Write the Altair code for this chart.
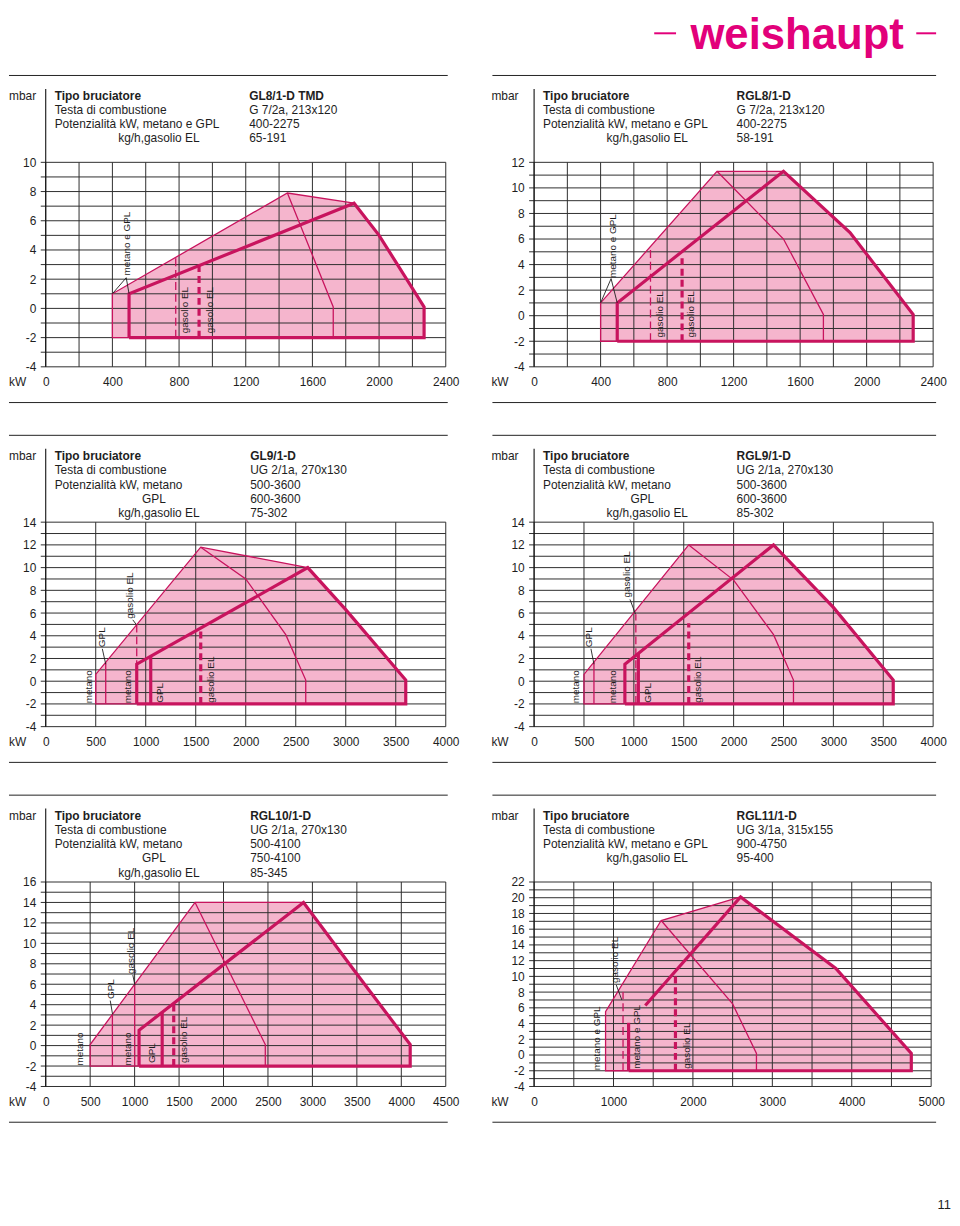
import altair as alt
import pandas as pd

FONT = "Liberation Sans"
LINE_C = "#c8145e"
FILL_C = "#f5b5cd"
GRID_C = "#2e2e2e"
TEXT_C = "#1e1e1e"
LOGO_C = "#e2007a"
BASE = -2  # lower edge of the working field (mbar)

# ================= Panel 1: GL8/1-D TMD =================
P1_HEAD_L = ["Tipo bruciatore", "Testa di combustione", "Potenzialità kW,  metano e GPL", "kg/h,gasolio EL"]
P1_HEAD_R = ["GL8/1-D TMD", "G 7/2a, 213x120", "400-2275", "65-191"]
P1_XTICKS = [0, 400, 800, 1200, 1600, 2000, 2400]
P1_YTICKS = [-4, -2, 0, 2, 4, 6, 8, 10]
P1_FILL_X = [400, 1450, 1850, 2000, 2270]
P1_FILL_Y = [1.0, 7.9, 7.2, 5.0, 0.1]
P1_THIN_X = [500, 400, 400, 1450, 1850]
P1_THIN_Y = [-2, -2, 1.0, 7.9, 7.2]
P1_THICK_X = [500, 500, 1850, 2000, 2270, 2270, 500]
P1_THICK_Y = [-2, 1.0, 7.2, 5.0, 0.1, -2, -2]
P1_INNER_X = [1450, 1725, 1725]
P1_INNER_Y = [7.9, 0.1, -2]
P1_DASH_X = [780, 780]
P1_DASH_Y = [-2, 3.5]
P1_BDASH_X = [920, 920]
P1_BDASH_Y = [-2, 2.9]
P1_LEAD1_X = [483, 400]
P1_LEAD1_Y = [2.1, 1.0]
P1_LEAD2_X = [483, 500]
P1_LEAD2_Y = [2.1, 1.0]
P1_LABELS = ["metano e GPL", "gasolio EL", "gasolio EL"]
P1_LABEL_X = [487, 834, 983]
P1_LABEL_Y = [2.25, -1.7, -1.7]

# ================= Panel 2: RGL8/1-D =================
P2_HEAD_L = ["Tipo bruciatore", "Testa di combustione", "Potenzialità kW,  metano e GPL", "kg/h,gasolio EL"]
P2_HEAD_R = ["RGL8/1-D", "G 7/2a, 213x120", "400-2275", "58-191"]
P2_XTICKS = [0, 400, 800, 1200, 1600, 2000, 2400]
P2_YTICKS = [-4, -2, 0, 2, 4, 6, 8, 10, 12]
P2_FILL_X = [400, 1100, 1500, 1900, 2280]
P2_FILL_Y = [1.0, 11.3, 11.3, 6.5, 0.1]
P2_THIN_X = [500, 400, 400, 1100, 1500]
P2_THIN_Y = [-2, -2, 1.0, 11.3, 11.3]
P2_THICK_X = [500, 500, 1500, 1900, 2280, 2280, 500]
P2_THICK_Y = [-2, 1.0, 11.3, 6.5, 0.1, -2, -2]
P2_INNER_X = [1100, 1500, 1740, 1740]
P2_INNER_Y = [11.3, 6.0, 0.1, -2]
P2_DASH_X = [700, 700]
P2_DASH_Y = [-2, 5.3]
P2_BDASH_X = [890, 890]
P2_BDASH_Y = [-2, 4.5]
P2_LEAD1_X = [463, 400]
P2_LEAD1_Y = [2.9, 1.0]
P2_LEAD2_X = [463, 500]
P2_LEAD2_Y = [2.9, 1.0]
P2_LABELS = ["metano e GPL", "gasolio EL", "gasolio EL"]
P2_LABEL_X = [477, 756, 944]
P2_LABEL_Y = [2.95, -1.7, -1.7]

# ================= Panel 3: GL9/1-D =================
P3_HEAD_L = ["Tipo bruciatore", "Testa di combustione", "Potenzialità kW, metano", "GPL", "kg/h,gasolio EL"]
P3_HEAD_R = ["GL9/1-D", "UG 2/1a, 270x130", "500-3600", "600-3600", "75-302"]
P3_XTICKS = [0, 500, 1000, 1500, 2000, 2500, 3000, 3500, 4000]
P3_YTICKS = [-4, -2, 0, 2, 4, 6, 8, 10, 12, 14]
P3_FILL_X = [500, 1550, 2620, 3000, 3600]
P3_FILL_Y = [0.6, 11.8, 10.0, 6.3, 0.1]
P3_THIN_X = [910, 500, 500, 1550, 2620]
P3_THIN_Y = [-2, -2, 0.6, 11.8, 10.0]
P3_THICK_X = [910, 910, 2620, 3000, 3600, 3600, 910]
P3_THICK_Y = [-2, 1.5, 10.0, 6.3, 0.1, -2, -2]
P3_STEP_X = [1050, 1050]
P3_STEP_Y = [-2, 2.2]
P3_GPL_X = [600, 600]
P3_GPL_Y = [-2, 1.67]
P3_INNER_X = [1550, 2000, 2400, 2600, 2600]
P3_INNER_Y = [11.8, 9.0, 4.1, 0.1, -2]
P3_DASH_X = [910, 910]
P3_DASH_Y = [-2, 4.97]
P3_BDASH_X = [1550, 1550]
P3_BDASH_Y = [-2, 4.7]
P3_LEAD1_X = [566, 600]
P3_LEAD1_Y = [2.85, 1.5]
P3_LEAD2_X = [871, 905]
P3_LEAD2_Y = [5.4, 5.0]
P3_LABELS = ["metano", "metano", "GPL", "GPL", "gasolio EL", "gasolio EL"]
P3_LABEL_X = [430, 821, 1142, 563, 844, 1649]
P3_LABEL_Y = [-1.95, -1.95, -1.9, 3.0, 5.5, -1.9]

# ================= Panel 4: RGL9/1-D =================
P4_HEAD_L = ["Tipo bruciatore", "Testa di combustione", "Potenzialità kW, metano", "GPL", "kg/h,gasolio EL"]
P4_HEAD_R = ["RGL9/1-D", "UG 2/1a, 270x130", "500-3600", "600-3600", "85-302"]
P4_XTICKS = [0, 500, 1000, 1500, 2000, 2500, 3000, 3500, 4000]
P4_YTICKS = [-4, -2, 0, 2, 4, 6, 8, 10, 12, 14]
P4_FILL_X = [500, 1550, 2400, 3000, 3600]
P4_FILL_Y = [0.6, 12.0, 12.0, 6.5, 0.1]
P4_THIN_X = [910, 500, 500, 1550, 2400]
P4_THIN_Y = [-2, -2, 0.6, 12.0, 12.0]
P4_THICK_X = [910, 910, 2400, 3000, 3600, 3600, 910]
P4_THICK_Y = [-2, 1.5, 12.0, 6.5, 0.1, -2, -2]
P4_STEP_X = [1045, 1045]
P4_STEP_Y = [-2, 2.45]
P4_GPL_X = [600, 600]
P4_GPL_Y = [-2, 1.69]
P4_INNER_X = [1550, 2000, 2400, 2600, 2600]
P4_INNER_Y = [12.0, 8.9, 4.1, 0.1, -2]
P4_DASH_X = [1020, 1020]
P4_DASH_Y = [-2, 5.9]
P4_BDASH_X = [1550, 1550]
P4_BDASH_Y = [-2, 5.1]
P4_LEAD1_X = [570, 600]
P4_LEAD1_Y = [2.85, 1.5]
P4_LEAD2_X = [961, 1017]
P4_LEAD2_Y = [7.2, 5.9]
P4_LABELS = ["metano", "metano", "GPL", "GPL", "gasolio EL", "gasolio EL"]
P4_LABEL_X = [424, 789, 1143, 547, 928, 1647]
P4_LABEL_Y = [-1.95, -1.95, -1.9, 3.0, 7.36, -1.9]

# ================= Panel 5: RGL10/1-D =================
P5_HEAD_L = ["Tipo bruciatore", "Testa di combustione", "Potenzialità kW, metano", "GPL", "kg/h,gasolio EL"]
P5_HEAD_R = ["RGL10/1-D", "UG 2/1a, 270x130", "500-4100", "750-4100", "85-345"]
P5_XTICKS = [0, 500, 1000, 1500, 2000, 2500, 3000, 3500, 4000, 4500]
P5_YTICKS = [-4, -2, 0, 2, 4, 6, 8, 10, 12, 14, 16]
P5_FILL_X = [500, 1680, 2900, 3500, 4100]
P5_FILL_Y = [0.1, 14.0, 14.0, 7.0, 0.1]
P5_THIN_X = [1050, 500, 500, 1680, 2900]
P5_THIN_Y = [-2, -2, 0.1, 14.0, 14.0]
P5_THICK_X = [1050, 1050, 2900, 3500, 4100, 4100, 1050]
P5_THICK_Y = [-2, 1.5, 14.0, 7.0, 0.1, -2, -2]
P5_STEP_X = [1310, 1310]
P5_STEP_Y = [-2, 3.3]
P5_GPL_X = [750, 750]
P5_GPL_Y = [-2, 3.05]
P5_OIL_X = [1000, 1000]
P5_OIL_Y = [-2, 5.9]
P5_INNER_X = [1680, 2470, 2470]
P5_INNER_Y = [14.0, 0.1, -2]
P5_BDASH_X = [1440, 1440]
P5_BDASH_Y = [-2, 4.2]
P5_LEAD1_X = [726, 752]
P5_LEAD1_Y = [4.4, 3.05]
P5_LEAD2_X = [980, 1003]
P5_LEAD2_Y = [6.9, 5.9]
P5_LABELS = ["metano", "metano", "GPL", "GPL", "gasolio EL", "gasolio EL"]
P5_LABEL_X = [391, 924, 1192, 738, 961, 1557]
P5_LABEL_Y = [-1.95, -1.95, -1.7, 4.55, 7.0, -1.7]

# ================= Panel 6: RGL11/1-D =================
P6_HEAD_L = ["Tipo bruciatore", "Testa di combustione", "Potenzialità kW,  metano e GPL", "kg/h,gasolio EL"]
P6_HEAD_R = ["RGL11/1-D", "UG 3/1a, 315x155", "900-4750", "95-400"]
P6_XTICKS = [0, 1000, 2000, 3000, 4000, 5000]
P6_YTICKS = [-4, -2, 0, 2, 4, 6, 8, 10, 12, 14, 16, 18, 20, 22]
P6_FILL_X = [900, 1600, 2600, 3800, 4750]
P6_FILL_Y = [5.5, 17.1, 20.1, 11.0, 0.2]
P6_THIN_X = [1190, 900, 900, 1600, 2600]
P6_THIN_Y = [-2, -2, 5.5, 17.1, 20.1]
P6_THICK_X = [1400, 2600, 3800, 4750, 4750, 1190]
P6_THICK_Y = [6.3, 20.1, 11.0, 0.2, -2, -2]
P6_STEP_X = [1190, 1190]
P6_STEP_Y = [-2, 4.1]
P6_INNER_X = [1600, 2500, 2800, 2800]
P6_INNER_Y = [17.1, 6.5, 0.2, -2]
P6_DASH_X = [1120, 1120]
P6_DASH_Y = [-2, 8.0]
P6_BDASH_X = [1780, 1780]
P6_BDASH_Y = [-2, 10.2]
P6_LEAD1_X = [1035, 1105]
P6_LEAD1_Y = [8.9, 7.0]
P6_LABELS = ["metano e GPL", "metano e GPL", "gasolio EL", "gasolio EL"]
P6_LABEL_X = [792, 1300, 1021, 1925]
P6_LABEL_Y = [-1.95, -1.75, 9.15, -1.75]

PAGE_NO = "11"
LOGO = "weishaupt"

PANELS = [
    dict(head_l=P1_HEAD_L, head_r=P1_HEAD_R, xmax=2400, ymin=-4, ymax=10, xstep=200,
         xticks=P1_XTICKS, yticks=P1_YTICKS, fill=(P1_FILL_X, P1_FILL_Y),
         thin=[(P1_THIN_X, P1_THIN_Y), (P1_INNER_X, P1_INNER_Y)],
         thick=[(P1_THICK_X, P1_THICK_Y)],
         dash=[(P1_DASH_X, P1_DASH_Y)], bdash=[(P1_BDASH_X, P1_BDASH_Y)],
         lead=[(P1_LEAD1_X, P1_LEAD1_Y), (P1_LEAD2_X, P1_LEAD2_Y)],
         labels=(P1_LABELS, P1_LABEL_X, P1_LABEL_Y)),
    dict(head_l=P2_HEAD_L, head_r=P2_HEAD_R, xmax=2400, ymin=-4, ymax=12, xstep=200,
         xticks=P2_XTICKS, yticks=P2_YTICKS, fill=(P2_FILL_X, P2_FILL_Y),
         thin=[(P2_THIN_X, P2_THIN_Y), (P2_INNER_X, P2_INNER_Y)],
         thick=[(P2_THICK_X, P2_THICK_Y)],
         dash=[(P2_DASH_X, P2_DASH_Y)], bdash=[(P2_BDASH_X, P2_BDASH_Y)],
         lead=[(P2_LEAD1_X, P2_LEAD1_Y), (P2_LEAD2_X, P2_LEAD2_Y)],
         labels=(P2_LABELS, P2_LABEL_X, P2_LABEL_Y)),
    dict(head_l=P3_HEAD_L, head_r=P3_HEAD_R, xmax=4000, ymin=-4, ymax=14, xstep=500,
         xticks=P3_XTICKS, yticks=P3_YTICKS, fill=(P3_FILL_X, P3_FILL_Y),
         thin=[(P3_THIN_X, P3_THIN_Y), (P3_INNER_X, P3_INNER_Y), (P3_GPL_X, P3_GPL_Y)],
         thick=[(P3_THICK_X, P3_THICK_Y), (P3_STEP_X, P3_STEP_Y)],
         dash=[(P3_DASH_X, P3_DASH_Y)], bdash=[(P3_BDASH_X, P3_BDASH_Y)],
         lead=[(P3_LEAD1_X, P3_LEAD1_Y), (P3_LEAD2_X, P3_LEAD2_Y)],
         labels=(P3_LABELS, P3_LABEL_X, P3_LABEL_Y)),
    dict(head_l=P4_HEAD_L, head_r=P4_HEAD_R, xmax=4000, ymin=-4, ymax=14, xstep=500,
         xticks=P4_XTICKS, yticks=P4_YTICKS, fill=(P4_FILL_X, P4_FILL_Y),
         thin=[(P4_THIN_X, P4_THIN_Y), (P4_INNER_X, P4_INNER_Y), (P4_GPL_X, P4_GPL_Y)],
         thick=[(P4_THICK_X, P4_THICK_Y), (P4_STEP_X, P4_STEP_Y)],
         dash=[(P4_DASH_X, P4_DASH_Y)], bdash=[(P4_BDASH_X, P4_BDASH_Y)],
         lead=[(P4_LEAD1_X, P4_LEAD1_Y), (P4_LEAD2_X, P4_LEAD2_Y)],
         labels=(P4_LABELS, P4_LABEL_X, P4_LABEL_Y)),
    dict(head_l=P5_HEAD_L, head_r=P5_HEAD_R, xmax=4500, ymin=-4, ymax=16, xstep=500,
         xticks=P5_XTICKS, yticks=P5_YTICKS, fill=(P5_FILL_X, P5_FILL_Y),
         thin=[(P5_THIN_X, P5_THIN_Y), (P5_INNER_X, P5_INNER_Y), (P5_GPL_X, P5_GPL_Y),
               (P5_OIL_X, P5_OIL_Y)],
         thick=[(P5_THICK_X, P5_THICK_Y), (P5_STEP_X, P5_STEP_Y)],
         dash=[], bdash=[(P5_BDASH_X, P5_BDASH_Y)],
         lead=[(P5_LEAD1_X, P5_LEAD1_Y), (P5_LEAD2_X, P5_LEAD2_Y)],
         labels=(P5_LABELS, P5_LABEL_X, P5_LABEL_Y)),
    dict(head_l=P6_HEAD_L, head_r=P6_HEAD_R, xmax=5000, ymin=-4, ymax=22, xstep=500,
         xticks=P6_XTICKS, yticks=P6_YTICKS, fill=(P6_FILL_X, P6_FILL_Y),
         thin=[(P6_THIN_X, P6_THIN_Y), (P6_INNER_X, P6_INNER_Y)],
         thick=[(P6_THICK_X, P6_THICK_Y), (P6_STEP_X, P6_STEP_Y)],
         dash=[(P6_DASH_X, P6_DASH_Y)], bdash=[(P6_BDASH_X, P6_BDASH_Y)],
         lead=[(P6_LEAD1_X, P6_LEAD1_Y)],
         labels=(P6_LABELS, P6_LABEL_X, P6_LABEL_Y)),
]

H = 206
BOTTOM_EXT = 243
RIGHT_EXT = 420
TOP_ROW_EXT = -165   # frame top of the first row (above the logo)
TOP_SHIFT = -15      # negative top padding: pulls the whole page up
ONE = pd.DataFrame({"d": [0]})


def line_df(segs):
    rows = []
    for k, (xs, ys) in enumerate(segs):
        for i, (x, y) in enumerate(zip(xs, ys)):
            rows.append({"x": x, "y": y, "seg": k, "i": i})
    return pd.DataFrame(rows)


def text_layer(t, x, y, size=12, weight="normal", align="left", baseline="middle", color=TEXT_C):
    return alt.Chart(pd.DataFrame({"t": [t]})).mark_text(
        font=FONT, fontSize=size, fontWeight=weight, align=align, baseline=baseline, color=color
    ).encode(x=alt.value(x), y=alt.value(y), text="t:N")


def prule(x1, x2, y1, y2, color, width=1.0, opacity=1.0):
    return alt.Chart(ONE).mark_rule(color=color, strokeWidth=width, strokeOpacity=opacity).encode(
        x=alt.value(x1), x2=alt.value(x2), y=alt.value(y1), y2=alt.value(y2))


def panel(cfg, width, left_ext, top_ext, head_y0, head_rx, right_side, extra=None):
    xs = alt.Scale(domain=[0, cfg["xmax"]], nice=False, zero=False)
    ys = alt.Scale(domain=[cfg["ymin"], cfg["ymax"]], nice=False, zero=False)
    common = dict(grid=False, ticks=False, domain=False, title=None, labelFont=FONT,
                  labelFontSize=12, labelColor=TEXT_C, labelPadding=10, labelFlush=False,
                  labelOverlap=False, labelExpr="'' + datum.value")
    xax = alt.Axis(values=cfg["xticks"], **common)
    yax = alt.Axis(values=cfg["yticks"], **common)

    def X():
        return alt.X("x:Q", scale=xs, axis=xax)

    def Y():
        return alt.Y("y:Q", scale=ys, axis=yax)

    layers = []
    # invisible frame that fixes the panel's extent
    layers.append(prule(left_ext, RIGHT_EXT, top_ext, BOTTOM_EXT, "white", 1, 0))

    fx, fy = cfg["fill"]
    fill_df = pd.DataFrame({"x": fx, "y": fy, "b": [BASE] * len(fx)})
    layers.append(alt.Chart(fill_df).mark_area(color=FILL_C, opacity=1).encode(
        x=X(), y=Y(), y2="b:Q"))

    gx = pd.DataFrame({"x": list(range(0, cfg["xmax"] + 1, cfg["xstep"]))})
    layers.append(alt.Chart(gx).mark_rule(color=GRID_C, strokeWidth=1).encode(x=X()))
    gy = pd.DataFrame({"y": list(range(cfg["ymin"], cfg["ymax"] + 1))})
    layers.append(alt.Chart(gy).mark_rule(color=GRID_C, strokeWidth=1).encode(
        y=Y(), x=alt.value(-5), x2=alt.value(width)))

    # vertical axis line running up into the header
    layers.append(prule(0, 0, -74, H, "#111111", 1.1))

    styles = [
        ("thin", 1.3, None, LINE_C),
        ("thick", 3.2, None, LINE_C),
        ("dash", 1.3, [8, 4], LINE_C),
        ("bdash", 3.2, [7, 4], LINE_C),
        ("lead", 0.9, None, TEXT_C),
    ]
    for key, w, dash, col in styles:
        segs = cfg[key]
        if not segs:
            continue
        kw = dict(color=col, strokeWidth=w, strokeJoin="miter", strokeCap="butt")
        if dash:
            kw["strokeDash"] = dash
        layers.append(alt.Chart(line_df(segs)).mark_line(**kw).encode(
            x=X(), y=Y(), detail="seg:N", order="i:Q"))

    lt, lx, ly = cfg["labels"]
    lab = pd.DataFrame({"t": lt, "x": lx, "y": ly})
    layers.append(alt.Chart(lab).mark_text(
        angle=270, align="left", baseline="middle", font=FONT, fontSize=10, color=TEXT_C
    ).encode(x=X(), y=Y(), text="t:N"))

    # header block
    for i, t in enumerate(cfg["head_l"]):
        if t == "GPL":
            hx = 97
        elif t.startswith("kg/h"):
            hx = 73
        else:
            hx = 9
        layers.append(text_layer(t, hx, head_y0 + 14.2 * i, weight="bold" if i == 0 else "normal"))
    for i, t in enumerate(cfg["head_r"]):
        layers.append(text_layer(t, head_rx, head_y0 + 14.2 * i, weight="bold" if i == 0 else "normal"))
    mx = -43 if right_side else -37
    layers.append(text_layer("mbar", mx, head_y0))
    layers.append(text_layer("kW", mx, H + 15.5))

    # separator lines above and below the panel
    sx0 = -42 if right_side else -37
    layers.append(prule(sx0, 405, -87.5, -87.5, "#222222", 1))
    layers.append(prule(sx0, 405, 242, 242, "#222222", 1))

    if extra:
        layers.extend(extra)

    return alt.layer(*layers).properties(width=width, height=H)


logo = [
    text_layer(LOGO, 265, -114, size=44, weight="bold", align="center", baseline="alphabetic", color=LOGO_C),
    prule(121, 143, -130, -130, LOGO_C, 2),
    prule(385, 405, -130, -130, LOGO_C, 2),
]
page_no = [text_layer(PAGE_NO, 420, 329, size=13, align="right", baseline="alphabetic")]

p1 = panel(PANELS[0], 403, -37, TOP_ROW_EXT, -67, 205, False)
p2 = panel(PANELS[1], 402, -43, TOP_ROW_EXT, -67, 204, True, extra=logo)
p3 = panel(PANELS[2], 403, -37, -88, -66.3, 206, False)
p4 = panel(PANELS[3], 402, -43, -88, -66.3, 204, True)
p5 = panel(PANELS[4], 403, -37, -88, -66.3, 206, False)
p6 = panel(PANELS[5], 400, -43, -88, -66.3, 204, True, extra=page_no)

row1 = alt.hconcat(p1, p2, spacing=27)
row2 = alt.hconcat(p3, p4, spacing=27)
row3 = alt.hconcat(p5, p6, spacing=27)

chart = alt.vconcat(row1, row2, row3, spacing=29.5).properties(
    padding={"left": 0, "top": TOP_SHIFT, "right": 0, "bottom": 0}, background="white"
).configure_view(stroke="transparent")

chart.save("out.html", embed_options={"renderer": "svg", "actions": False})
